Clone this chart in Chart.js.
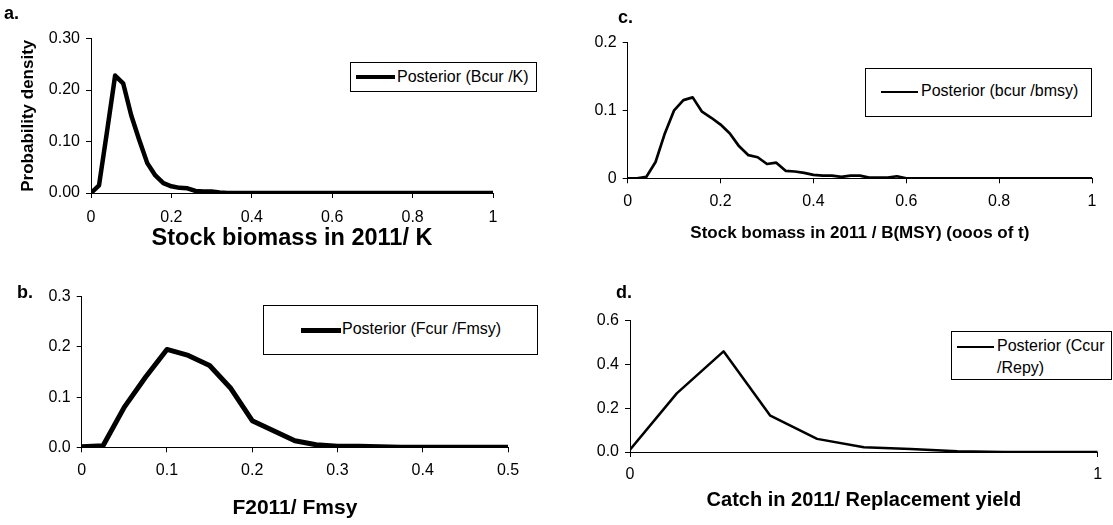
<!DOCTYPE html>
<html>
<head>
<meta charset="utf-8">
<script src="https://cdn.jsdelivr.net/npm/chart.js@4"></script>
<style>
  html, body { margin: 0; padding: 0; background: #fff; }
  #wrap { position: relative; width: 1113px; height: 525px; overflow: hidden;
          font-family: "Liberation Sans", Arial, sans-serif; color: #000; }
  canvas { position: absolute; }
  .tag { position: absolute; font-weight: bold; font-size: 18px; line-height: 18px; }
  .legend { position: absolute; border: 1px solid #000; background: #fff; box-sizing: border-box; font-size: 16px; }
  .legend .sw { position: absolute; background: #000; }
  .legend .tx { position: absolute; line-height: 22px; white-space: normal; }
</style>
</head>
<body>
<div id="wrap">
  <canvas id="ca" width="556" height="262" style="left:0;top:0"></canvas>
  <canvas id="cb" width="556" height="263" style="left:0;top:262px"></canvas>
  <canvas id="cc" width="557" height="262" style="left:556px;top:0"></canvas>
  <canvas id="cd" width="557" height="263" style="left:556px;top:262px"></canvas>
  <div class="tag" style="left:4px;top:4px">a.</div>
  <div class="tag" style="left:17px;top:283px">b.</div>
  <div class="tag" style="left:618px;top:8px">c.</div>
  <div class="tag" style="left:616px;top:283px">d.</div>
</div>
<script>
// --- data ---
// panels a and c share the same x grid (step 0.02)
var gridX = [0, 0.02, 0.04, 0.06, 0.08, 0.1, 0.12, 0.14, 0.16, 0.18,
             0.2, 0.22, 0.24, 0.26, 0.28, 0.3, 0.32, 0.34, 0.36, 0.38,
             0.4, 0.42, 0.44, 0.46, 0.48, 0.5, 0.52, 0.54, 0.56, 0.58,
             0.6, 0.62, 0.64, 0.66, 0.68, 0.7, 0.72, 0.74, 0.76, 0.78,
             0.8, 0.82, 0.84, 0.86, 0.88, 0.9, 0.92, 0.94, 0.96, 0.98, 1]

var aY = [0, 0.015, 0.12, 0.228, 0.213, 0.151, 0.103, 0.058, 0.034, 0.019,
          0.013, 0.01, 0.009, 0.004, 0.003, 0.003, 0.001, 0, 0, 0,
          0, 0, 0, 0, 0, 0, 0, 0, 0, 0,
          0, 0, 0, 0, 0, 0, 0, 0, 0, 0,
          0, 0, 0, 0, 0, 0, 0, 0, 0, 0, 0]
var aXTicks = ['0', '0.2', '0.4', '0.6', '0.8', '1']
var aYTicks = ['0.00', '0.10', '0.20', '0.30']

var bX = [0, 0.025, 0.05, 0.075, 0.1, 0.125, 0.15, 0.175, 0.2, 0.225, 0.25,
          0.275, 0.3, 0.325, 0.35, 0.375, 0.4, 0.425, 0.45, 0.475, 0.5]
var bY = [0.001, 0.003, 0.08, 0.14, 0.195, 0.183, 0.163, 0.117, 0.053, 0.033, 0.013,
          0.005, 0.002, 0.002, 0.001, 0, 0, 0, 0, 0, 0]
var bXTicks = ['0', '0.1', '0.2', '0.3', '0.4', '0.5']
var bYTicks = ['0.0', '0.1', '0.2', '0.3']

var cY = [0, 0, 0.002, 0.024, 0.066, 0.1, 0.115, 0.119, 0.098, 0.089,
          0.079, 0.066, 0.047, 0.034, 0.031, 0.021, 0.023, 0.011, 0.01, 0.008,
          0.005, 0.004, 0.004, 0.002, 0.004, 0.004, 0.001, 0.001, 0.001, 0.003,
          0, 0, 0, 0, 0, 0, 0, 0, 0, 0,
          0, 0, 0, 0, 0, 0, 0, 0, 0, 0, 0]
var cXTicks = ['0', '0.2', '0.4', '0.6', '0.8', '1']
var cYTicks = ['0', '0.1', '0.2']

var dX = [0, 0.1, 0.2, 0.3, 0.4, 0.5, 0.6, 0.7, 0.8, 0.9, 1]
var dY = [0.01, 0.268, 0.46, 0.166, 0.06, 0.022, 0.014, 0.003, 0, 0, 0]
var dXTicks = ['0', '1']
var dYTicks = ['0.0', '0.2', '0.4', '0.6']

Chart.defaults.font.family = '"Liberation Sans", Arial, sans-serif'
Chart.defaults.color = '#000'

function pts(xs, ys) {
  return xs.map(function (x, i) { return { x: x, y: ys[i] } })
}

// one small chart per panel; sizes pin the plot area to the figure
function makePanel(id, p) {
  return new Chart(document.getElementById(id), {
    type: 'line',
    data: {
      datasets: [{
        label: p.label,
        data: pts(p.xs, p.ys),
        borderColor: '#000',
        borderWidth: p.lw,
        pointRadius: 0,
        tension: 0,
        borderJoinStyle: 'round'
      }]
    },
    options: {
      responsive: false,
      animation: false,
      layout: { padding: { left: 0, top: p.top, right: p.right, bottom: 0 } },
      plugins: { legend: { display: false }, tooltip: { enabled: false } },
      scales: {
        x: {
          type: 'linear', min: p.xMin, max: p.xMax,
          afterFit: function (s) { s.height = p.xH },
          ticks: {
            stepSize: p.xStep, padding: p.xPad, maxRotation: 0, autoSkip: false,
            font: { size: 16 },
            callback: function (v, i) { return p.xTicks[i] }
          },
          grid: { drawOnChartArea: false, tickLength: 5, color: '#000' },
          border: { color: '#000' },
          title: {
            display: true, text: p.xTitle, color: '#000',
            font: { size: p.xTitleSize, weight: 'bold' },
            padding: { top: 0, bottom: p.xTitlePad }
          }
        },
        y: {
          min: 0, max: p.yMax,
          afterFit: function (s) { s.width = p.yW },
          ticks: {
            stepSize: p.yStep, padding: 6, font: { size: 16 },
            callback: function (v, i) { return p.yTicks[i] }
          },
          grid: { drawOnChartArea: false, tickLength: 5, color: '#000' },
          border: { color: '#000' },
          title: {
            display: !!p.yTitle, text: p.yTitle || '', color: '#000',
            font: { size: 17, weight: 'bold' },
            padding: { top: 18, bottom: 0 }
          }
        }
      }
    }
  })
}

// boxed legend like the original, built from the dataset
function addLegend(chart, b) {
  var ds = chart.data.datasets[0]
  var box = document.createElement('div')
  box.className = 'legend'
  box.style.cssText = 'left:' + b.left + 'px;top:' + b.top + 'px;width:' + b.width + 'px;height:' + b.height + 'px'
  var sw = document.createElement('div')
  sw.className = 'sw'
  sw.style.cssText = 'left:' + b.swLeft + 'px;width:' + b.swWidth + 'px;height:' + ds.borderWidth +
    'px;top:' + (b.swY - ds.borderWidth / 2) + 'px'
  var tx = document.createElement('div')
  tx.className = 'tx'
  tx.textContent = ds.label
  tx.style.cssText = 'left:' + b.txLeft + 'px;top:' + b.txTop + 'px' + (b.txWidth ? ';width:' + b.txWidth + 'px' : ';white-space:nowrap')
  box.appendChild(sw)
  box.appendChild(tx)
  document.getElementById('wrap').appendChild(box)
}

var chartA = makePanel('ca', {
  label: 'Posterior (Bcur /K)', xs: gridX, ys: aY, lw: 4.5,
  top: 38.5, right: 63, xH: 69, yW: 91,
  xMin: 0, xMax: 1, xStep: 0.2, xPad: 10, xTicks: aXTicks,
  yMax: 0.3, yStep: 0.1, yTicks: aYTicks,
  xTitle: 'Stock biomass in 2011/ K', xTitleSize: 23.5, xTitlePad: 9.4,
  yTitle: 'Probability density'
})
var chartB = makePanel('cb', {
  label: 'Posterior (Fcur /Fmsy)', xs: bX, ys: bY, lw: 5,
  top: 34.7, right: 48, xH: 77.7, yW: 81.7,
  xMin: 0, xMax: 0.5, xStep: 0.1, xPad: 9, xTicks: bXTicks,
  yMax: 0.3, yStep: 0.1, yTicks: bYTicks,
  xTitle: 'F2011/ Fmsy', xTitleSize: 21, xTitlePad: 4.4
})
var chartC = makePanel('cc', {
  label: 'Posterior (bcur /bmsy)', xs: gridX, ys: cY, lw: 2.7,
  top: 42.3, right: 21, xH: 83.7, yW: 71.7,
  xMin: 0, xMax: 1, xStep: 0.2, xPad: 9, xTicks: cXTicks,
  yMax: 0.2, yStep: 0.1, yTicks: cYTicks,
  xTitle: 'Stock bomass in 2011 / B(MSY) (ooos of t)', xTitleSize: 17, xTitlePad: 18.5
})
var chartD = makePanel('cd', {
  label: 'Posterior (Ccur /Repy)', xs: dX, ys: dY, lw: 2.5,
  top: 58.7, right: 15.3, xH: 73, yW: 74,
  xMin: 0, xMax: 1, xStep: 1, xPad: 8, xTicks: dXTicks,
  yMax: 0.6, yStep: 0.2, yTicks: dYTicks,
  xTitle: 'Catch in 2011/ Replacement yield', xTitleSize: 20, xTitlePad: 12.3
})

addLegend(chartA, { left: 350, top: 62, width: 187, height: 30, swLeft: 5, swWidth: 39, swY: 14, txLeft: 46, txTop: 3 })
addLegend(chartB, { left: 263, top: 305, width: 275, height: 50, swLeft: 37, swWidth: 40, swY: 24, txLeft: 78, txTop: 12 })
addLegend(chartC, { left: 865, top: 68, width: 227, height: 49, swLeft: 15, swWidth: 37, swY: 23, txLeft: 55, txTop: 11 })
addLegend(chartD, { left: 951, top: 331, width: 161, height: 49, swLeft: 5, swWidth: 37, swY: 15, txLeft: 45, txTop: 3, txWidth: 114 })
</script>
</body>
</html>
